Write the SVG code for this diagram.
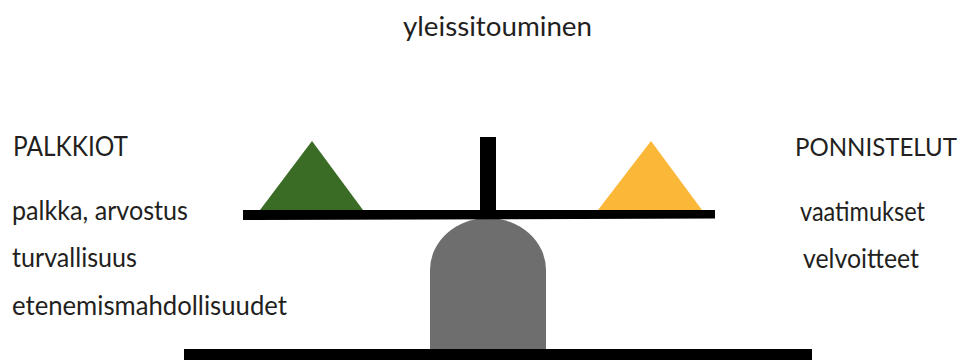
<svg xmlns="http://www.w3.org/2000/svg" width="968" height="360" viewBox="0 0 968 360">
<style>
text{font-family:Lato,"Open Sans","Liberation Sans",sans-serif;font-size:26px;fill:#231f20}
.blk{fill:#000}
</style>
<rect width="968" height="360" fill="#fff"/>
<g id="title"><text x="403" y="36" textLength="189" lengthAdjust="spacingAndGlyphs">yleissitouminen</text></g>
<g id="left-labels">
<text x="13" y="156" textLength="115" lengthAdjust="spacingAndGlyphs">PALKKIOT</text>
<text x="12" y="220" textLength="176" lengthAdjust="spacingAndGlyphs">palkka, arvostus</text>
<text x="12" y="267" textLength="125" lengthAdjust="spacingAndGlyphs">turvallisuus</text>
<text x="12" y="315" textLength="275" lengthAdjust="spacingAndGlyphs">etenemismahdollisuudet</text>
</g>
<g id="right-labels">
<text x="795" y="156" style="font-size:24.5px" textLength="162" lengthAdjust="spacingAndGlyphs">PONNISTELUT</text>
<text x="800" y="221" textLength="125" lengthAdjust="spacingAndGlyphs">vaatimukset</text>
<text x="803" y="268" textLength="116" lengthAdjust="spacingAndGlyphs">velvoitteet</text>
</g>
<g id="scale">
<g id="pillar"><path d="M430 349 V270 A58 52 0 0 1 546 270 V349 Z" fill="#6d6e6d"/></g>
<g id="base"><rect class="blk" x="184" y="349" width="628" height="11"/></g>
<g id="post"><rect class="blk" x="480" y="137" width="16" height="75"/></g>
<g id="green-weight"><polygon points="312,141 363,210 260,210" fill="#3b6c26"/></g>
<g id="yellow-weight"><polygon points="651,141 702,210 598,210" fill="#fbb838"/></g>
<g id="beam"><polygon class="blk" points="243,210 715,210 715,218.5 243,220"/></g>
</g>
</svg>
